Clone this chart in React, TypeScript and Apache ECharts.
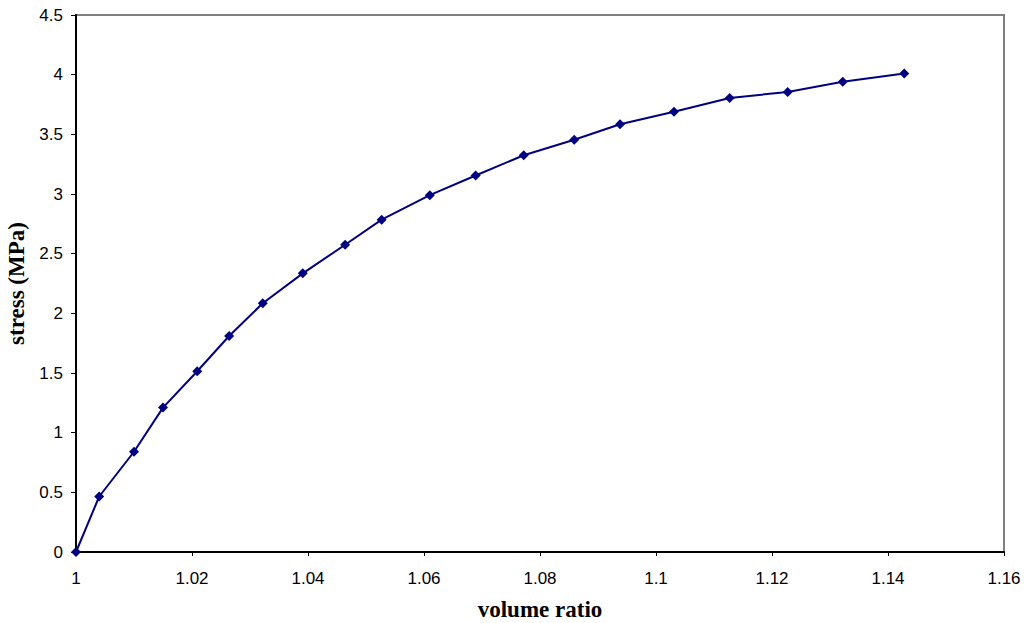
import * as echarts from "echarts";
import { useEffect, useRef } from "react";

const volumeRatio = [
  1.0, 1.004, 1.01, 1.015, 1.0209, 1.0264, 1.0322, 1.0391, 1.0464, 1.0527,
  1.061, 1.0689, 1.0772, 1.0859, 1.0938, 1.1031, 1.1127, 1.1227, 1.1322,
  1.1428,
];
const stress = [
  0, 0.465, 0.84, 1.21, 1.515, 1.81, 2.085, 2.335, 2.575, 2.785, 2.99, 3.155,
  3.325, 3.455, 3.585, 3.69, 3.805, 3.855, 3.94, 4.01,
];

const labelFont = "'Liberation Sans', Arial, sans-serif";
const titleFont = "'Liberation Serif', 'Times New Roman', serif";

export default function App() {
  const chartRef = useRef<HTMLDivElement | null>(null);

  useEffect(() => {
    const el = chartRef.current;
    if (!el) return;
    const chart = echarts.init(el, undefined, { renderer: "svg" });

    const option: echarts.EChartsOption = {
      animation: false,
      backgroundColor: "#fff",
      grid: {
        left: 76,
        top: 15,
        right: 23,
        bottom: 71,
        show: true,
        borderColor: "#808080",
        borderWidth: 2,
        outerBoundsMode: "none",
      } as any,
      xAxis: {
        type: "value",
        min: 1,
        max: 1.16,
        interval: 0.02,
        name: "volume ratio",
        nameLocation: "middle",
        nameGap: 46,
        nameTextStyle: {
          fontFamily: titleFont,
          fontWeight: "bold",
          fontSize: 23,
          color: "#000",
        },
        axisLine: { show: true, lineStyle: { color: "#000", width: 2 } },
        axisTick: { show: true, length: 4, lineStyle: { color: "#000" } },
        axisLabel: {
          fontFamily: labelFont,
          fontSize: 17,
          color: "#000",
          margin: 18,
          formatter: (v: number) => String(Math.round(v * 100) / 100),
        },
        splitLine: { show: false },
      },
      yAxis: {
        type: "value",
        min: 0,
        max: 4.5,
        interval: 0.5,
        name: "stress (MPa)",
        nameLocation: "middle",
        nameGap: 38,
        nameTextStyle: {
          fontFamily: titleFont,
          fontWeight: "bold",
          fontSize: 23,
          color: "#000",
        },
        axisLine: { show: true, lineStyle: { color: "#000", width: 2 } },
        axisTick: { show: true, length: 5, lineStyle: { color: "#000" } },
        axisLabel: {
          fontFamily: labelFont,
          fontSize: 17,
          color: "#000",
          margin: 13,
        },
        splitLine: { show: false },
      },
      series: [
        {
          type: "line",
          data: volumeRatio.map((x, i) => [x, stress[i]]),
          symbol: "diamond",
          symbolSize: 10,
          showAllSymbol: true,
          lineStyle: { color: "#000080", width: 2 },
          itemStyle: { color: "#000080" },
        },
      ],
    };

    chart.setOption(option);
    return () => {
      chart.dispose();
    };
  }, []);

  return (
    <div
      ref={chartRef}
      style={{ position: "fixed", left: 0, top: 0, width: 1027, height: 623 }}
    />
  );
}
